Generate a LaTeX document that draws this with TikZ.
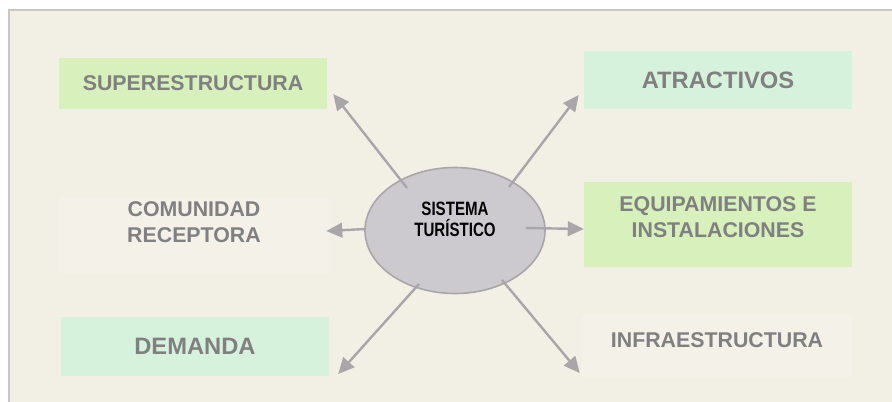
\documentclass[tikz,border=0pt]{standalone}
\usepackage{fontspec}
\setmainfont{Liberation Sans}
\newfontfamily\narrowfont[FakeStretch=0.78]{Liberation Sans}
\usetikzlibrary{arrows.meta,shapes}

\definecolor{fondo}{RGB}{242,239,229}
\definecolor{marco}{RGB}{200,200,200}
\definecolor{verde}{RGB}{216,240,188}
\definecolor{menta}{RGB}{214,242,220}
\definecolor{claro}{RGB}{243,241,232}
\definecolor{gristexto}{RGB}{128,128,128}
\definecolor{grisflecha}{RGB}{168,166,168}
\definecolor{elipse}{RGB}{204,202,206}

\begin{document}
\begin{tikzpicture}[x=0.75pt,y=-0.75pt,>={Triangle[length=12pt,width=11pt]},
                    cuadro/.style={rectangle,inner sep=0pt,minimum width=201pt},
                    rotulo/.style={text=gristexto,align=center,font=\fontsize{16}{19.5}\selectfont\bfseries},
                    grande/.style={font=\fontsize{17.8}{21}\selectfont\bfseries},
                    main node/.style={ellipse,draw=grisflecha,line width=1.2pt,fill=elipse,
                                      minimum width=135pt,minimum height=94.5pt},
                    centro/.style={align=center,font=\narrowfont\fontsize{14.5}{15.5}\selectfont\bfseries}]

  \useasboundingbox (0,0) rectangle (892,401);
  \begin{scope}
    \clip (0,0) rectangle (892,401);
    \fill[white] (0,0) rectangle (892,401);
    \draw[marco,fill=fondo,line width=1.2pt] (9,10) rectangle (905,415);
  \end{scope}

  % sistema
  \node[main node,label={[centro,yshift=8.5pt]center:{SISTEMA\\TURÍSTICO}}] (sist) at (455,230.5) {};

  % cuadros
  \node[cuadro,rotulo,fill=verde,minimum height=38.25pt] (super) at (193,83.5) {SUPERESTRUCTURA};
  \node[cuadro,rotulo,grande,fill=menta,minimum height=43.5pt] (atract) at (718,80) {ATRACTIVOS};
  \node[cuadro,fill=claro,minimum width=202.5pt,minimum height=57pt,
        label={[rotulo,yshift=9.75pt]center:{COMUNIDAD\\RECEPTORA}}] (comun) at (194,235) {};
  \node[cuadro,fill=verde,minimum height=63.75pt,
        label={[rotulo,yshift=5.6pt]center:{EQUIPAMIENTOS E\\INSTALACIONES}}] (equip) at (718,224.5) {};
  \node[cuadro,rotulo,grande,fill=menta,minimum height=44.25pt] (demanda) at (195,346.5) {DEMANDA};
  \node[cuadro,fill=claro,minimum width=202.5pt,minimum height=46.5pt,
        label={[rotulo,yshift=4.5pt]center:{INFRAESTRUCTURA}}] (infra) at (717,346) {};

  % flechas
  \path[every edge/.style={draw=grisflecha,line width=1.8pt,->}]
    ([shift={(-48,-42.5)}]sist.center) edge ([shift={(6,10.5)}]super.east)
    ([shift={(54,-43.5)}]sist.center)  edge ([shift={(-5,15)}]atract.west)
    ([shift={(-90,-1.5)}]sist.center)  edge ([shift={(-3,-4)}]comun.east)
    ([shift={(71,-2.5)}]sist.center)   edge ([shift={(0,4.5)}]equip.west)
    ([shift={(-36,53.5)}]sist.center)  edge ([shift={(9,27.5)}]demanda.east)
    ([shift={(47,49.5)}]sist.center)   edge ([shift={(-2,27)}]infra.west);
\end{tikzpicture}
\end{document}
